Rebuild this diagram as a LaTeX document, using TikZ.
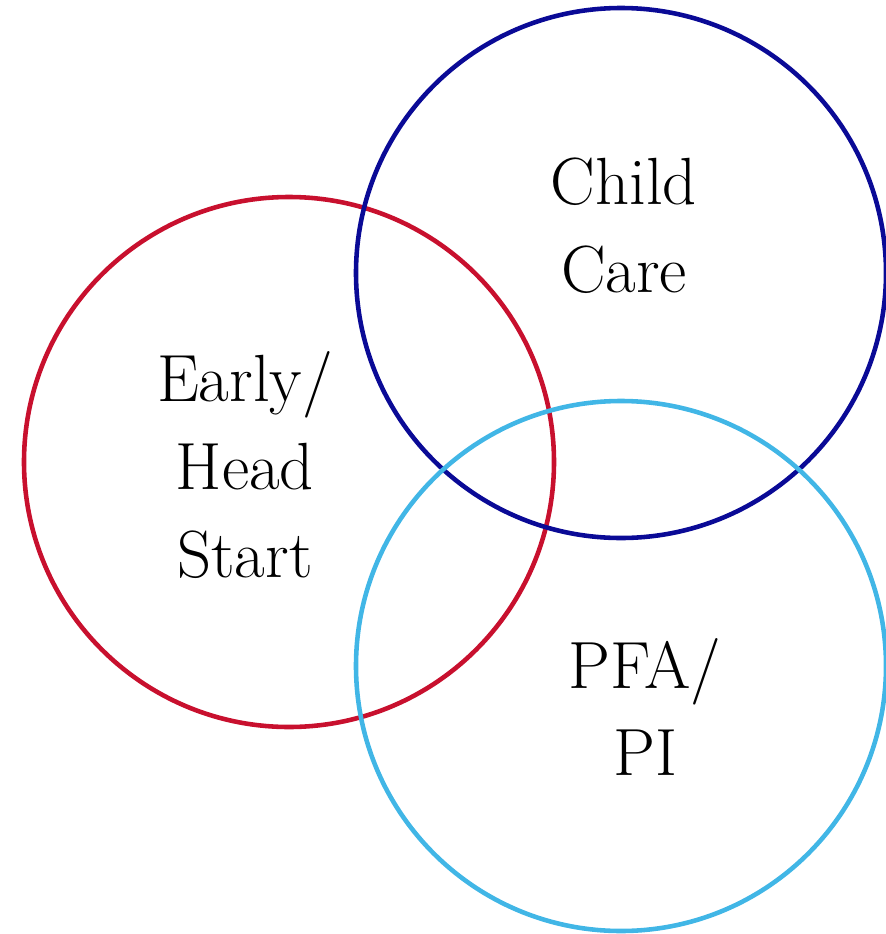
\documentclass[tikz,border=0pt]{standalone}
\usetikzlibrary{positioning}
\definecolor{ehsred}{RGB}{200,16,46}
\definecolor{ccblue}{RGB}{10,10,150}
\definecolor{pfablue}{RGB}{65,182,230}
\tikzset{
	ring/.style={line width=2.6pt},
	label text/.style={align=center,font=\fontsize{38}{50}\selectfont}
}
\begin{document}
\begin{tikzpicture}[x=0.02cm,y=-0.02cm]
			\useasboundingbox (0,0) rectangle (886,934);
			% the three circles
			\draw[ring,ehsred] (289,462) circle (265);
			\draw[ring,ccblue] (621,273) circle (265);
			\draw[ring,pfablue] (621,666) circle (265);
			% labels
			\node[label text] (care) at (624,226) {Child\\Care};
			\node[label text] (ehs) at (245,465) {Early/\\Head\\Start};
			\node[label text] (pfa) at (645,707) {PFA/\\PI};
		\end{tikzpicture}
\end{document}
